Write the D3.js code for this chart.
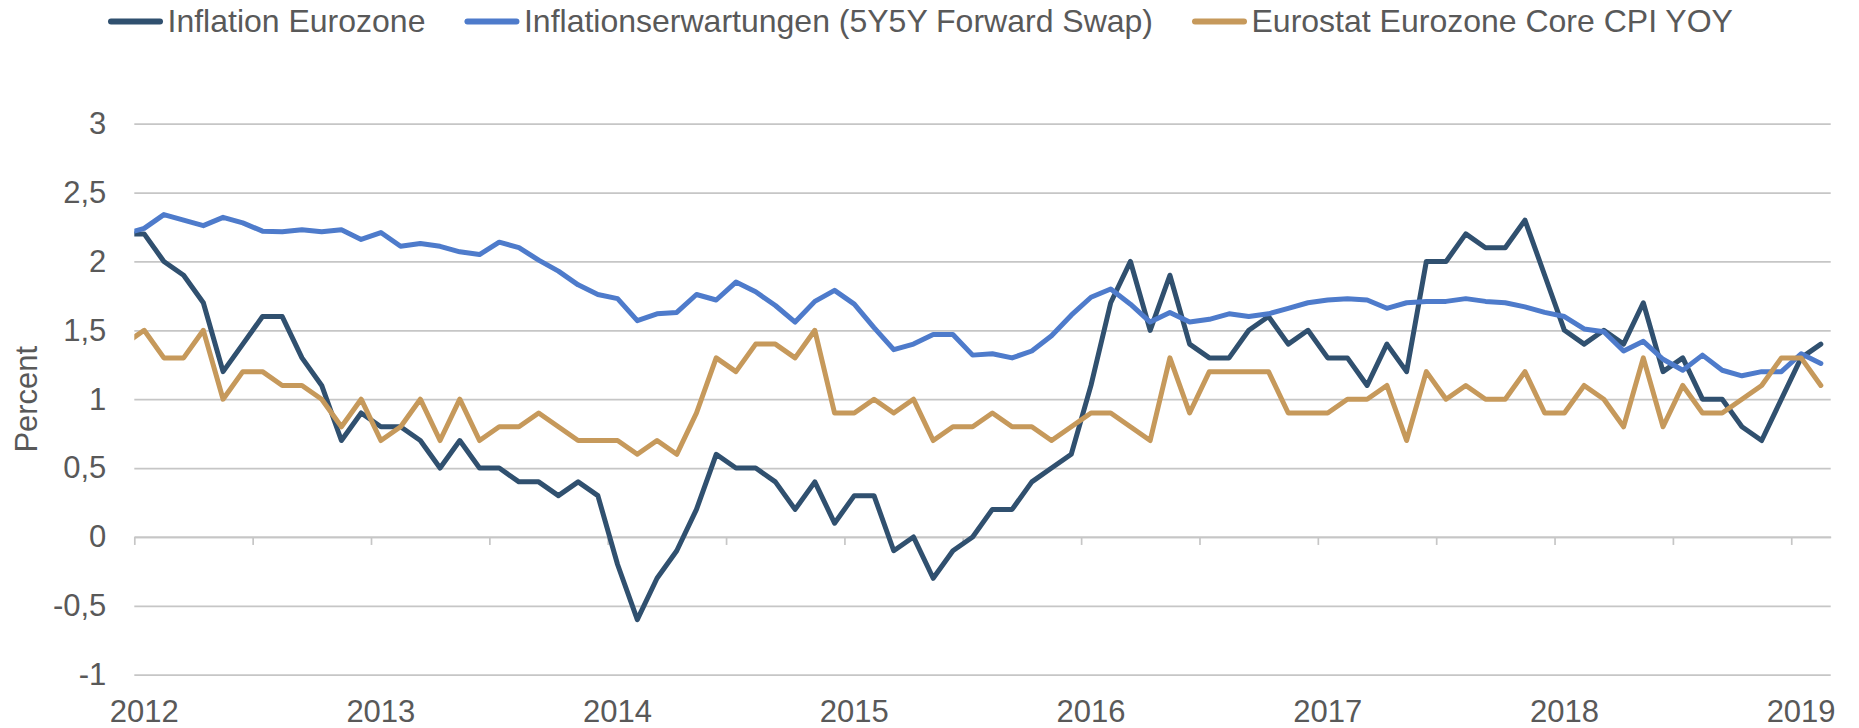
<!DOCTYPE html>
<html>
<head>
<meta charset="utf-8">
<script src="https://cdn.jsdelivr.net/npm/d3@7"></script>
<style>
  body { margin: 0; background: #fff; }
  svg { display: block; font-family: 'Liberation Sans', Arial, sans-serif; }
</style>
</head>
<body>
<div id="chart"></div>
<script>
const width = 1859
const height = 728
const textColor = '#595959'
const gridColor = '#c6c6c6'

// monthly observations, Dec 2011 .. Feb 2019 (the Dec 2011 point sits left of the axis and is clipped)
const months = d3.utcMonth.range(new Date(Date.UTC(2011, 11, 1)), new Date(Date.UTC(2019, 2, 1)))
const yearLabels = ['2012', '2013', '2014', '2015', '2016', '2017', '2018', '2019']
const yTicks = [-1, -0.5, 0, 0.5, 1, 1.5, 2, 2.5, 3]

const inflation = [2.2,
	2.2, 2.0, 1.9, 1.7, 1.2, 1.4, 1.6, 1.6, 1.3, 1.1, 0.7, 0.9, 0.8, 0.8, 0.7, 0.5, 0.7, 0.5, 0.5, 0.4, 0.4, 0.3,
	0.4, 0.3, -0.2, -0.6, -0.3, -0.1, 0.2, 0.6, 0.5, 0.5, 0.4, 0.2, 0.4, 0.1, 0.3, 0.3, -0.1, 0.0, -0.3, -0.1, 0.0, 0.2,
	0.2, 0.4, 0.5, 0.6, 1.1, 1.7, 2.0, 1.5, 1.9, 1.4, 1.3, 1.3, 1.5, 1.6, 1.4, 1.5, 1.3, 1.3, 1.1, 1.4, 1.2, 2.0,
	2.0, 2.2, 2.1, 2.1, 2.3, 1.9, 1.5, 1.4, 1.5, 1.4, 1.7, 1.2, 1.3, 1.0, 1.0, 0.8, 0.7, 1.0, 1.3, 1.4]

const expectations = [2.20,
	2.24, 2.34, 2.30, 2.26, 2.32, 2.28, 2.22, 2.215, 2.23, 2.215, 2.23, 2.16, 2.21, 2.11, 2.13, 2.11, 2.07, 2.05, 2.14, 2.10, 2.01, 1.93,
	1.83, 1.76, 1.73, 1.57, 1.62, 1.63, 1.76, 1.72, 1.85, 1.78, 1.68, 1.56, 1.71, 1.79, 1.69, 1.52, 1.36, 1.40, 1.47, 1.47, 1.32, 1.33,
	1.30, 1.35, 1.46, 1.61, 1.74, 1.80, 1.69, 1.56, 1.63, 1.56, 1.58, 1.62, 1.60, 1.62, 1.66, 1.70, 1.72, 1.73, 1.72, 1.66, 1.70, 1.71,
	1.71, 1.73, 1.71, 1.70, 1.67, 1.63, 1.60, 1.51, 1.49, 1.35, 1.42, 1.29, 1.21, 1.32, 1.21, 1.17, 1.20, 1.20, 1.33, 1.26]

const coreCpi = [1.4,
	1.5, 1.3, 1.3, 1.5, 1.0, 1.2, 1.2, 1.1, 1.1, 1.0, 0.8, 1.0, 0.7, 0.8, 1.0, 0.7, 1.0, 0.7, 0.8, 0.8, 0.9, 0.8,
	0.7, 0.7, 0.7, 0.6, 0.7, 0.6, 0.9, 1.3, 1.2, 1.4, 1.4, 1.3, 1.5, 0.9, 0.9, 1.0, 0.9, 1.0, 0.7, 0.8, 0.8, 0.9,
	0.8, 0.8, 0.7, 0.8, 0.9, 0.9, 0.8, 0.7, 1.3, 0.9, 1.2, 1.2, 1.2, 1.2, 0.9, 0.9, 0.9, 1.0, 1.0, 1.1, 0.7, 1.2,
	1.0, 1.1, 1.0, 1.0, 1.2, 0.9, 0.9, 1.1, 1.0, 0.8, 1.3, 0.8, 1.1, 0.9, 0.9, 1.0, 1.1, 1.3, 1.3, 1.1]

const seriesNames = ['Inflation Eurozone', 'Inflationserwartungen (5Y5Y Forward Swap)', 'Eurostat Eurozone Core CPI YOY']
const seriesColors = ['#30506f', '#4e7bcb', '#c6995b']
const seriesValues = [inflation, expectations, coreCpi]

const plotLeft = 134.3, plotRight = 1830.7, plotTop = 123.7, plotBottom = 674.7
const axisStart = new Date(Date.UTC(2012, 0, 1))

// month index scale (Excel date axis with month base unit)
const x = d3.scaleLinear().domain([0, 86]).range([plotLeft, plotRight])
const y = d3.scaleLinear().domain([-1, 3]).range([plotBottom, plotTop])
const monthPos = d => d3.utcMonth.count(axisStart, d) + 0.5

const de = d3.formatLocale({decimal: ',', thousands: '.', grouping: [3], currency: ['', ' €'], minus: '-'})
const fmt = de.format('~g')

const svg = d3.select('#chart').append('svg')
	.attr('width', width)
	.attr('height', height)

svg.append('clipPath').attr('id', 'plot-clip')
	.append('rect')
	.attr('x', plotLeft).attr('y', 0)
	.attr('width', plotRight - plotLeft).attr('height', height)

// gridlines + y labels
const yAxis = svg.append('g')
	.attr('transform', 'translate(' + plotLeft + ',0)')
	.call(d3.axisLeft(y).tickValues(yTicks).tickFormat(fmt).tickSize(-(plotRight - plotLeft)).tickPadding(28))
yAxis.select('.domain').remove()
yAxis.selectAll('.tick line').attr('stroke', gridColor).attr('stroke-width', 1.7)
yAxis.selectAll('.tick text').attr('fill', textColor).style('font-size', '31px')

// x axis ticks at zero, every six months
const xAxis = svg.append('g')
	.attr('transform', 'translate(0,' + y(0) + ')')
	.call(d3.axisBottom(x).tickValues(d3.range(0, 85, 6)).tickFormat('').tickSize(8).tickSizeOuter(0))
xAxis.select('.domain').attr('stroke', gridColor).attr('stroke-width', 1.7)
xAxis.selectAll('.tick line').attr('stroke', gridColor).attr('stroke-width', 1.7)

svg.append('g').selectAll('text')
	.data(yearLabels)
	.enter()
	.append('text')
	.attr('x', (d, i) => x(i * 12 + 0.5))
	.attr('y', 722)
	.attr('text-anchor', 'middle')
	.attr('fill', textColor)
	.style('font-size', '31px')
	.text(d => d)

svg.append('text')
	.attr('transform', 'translate(37,' + (plotTop + plotBottom) / 2 + ') rotate(-90)')
	.attr('text-anchor', 'middle')
	.attr('fill', textColor)
	.style('font-size', '31px')
	.text('Percent')

// the three lines
const line = d3.line()
	.x((d, i) => x(monthPos(months[i])))
	.y(d => y(d))

svg.append('g')
	.attr('clip-path', 'url(#plot-clip)')
	.selectAll('path')
	.data(seriesValues)
	.enter()
	.append('path')
	.attr('d', d => line(d))
	.attr('fill', 'none')
	.attr('stroke', (d, i) => seriesColors[i])
	.attr('stroke-width', 5)
	.attr('stroke-linejoin', 'round')
	.attr('stroke-linecap', 'round')

// legend
const legend = svg.append('g')
let lx = 108
seriesNames.forEach((name, i) => {
	legend.append('line')
		.attr('x1', lx + 3).attr('x2', lx + 52)
		.attr('y1', 21.5).attr('y2', 21.5)
		.attr('stroke', seriesColors[i])
		.attr('stroke-width', 6)
		.attr('stroke-linecap', 'round')
	const t = legend.append('text')
		.attr('x', lx + 59.5)
		.attr('y', 32)
		.attr('fill', textColor)
		.style('font-size', '32px')
		.text(name)
	lx += 59.5 + t.node().getComputedTextLength() + 39
})
</script>
</body>
</html>
